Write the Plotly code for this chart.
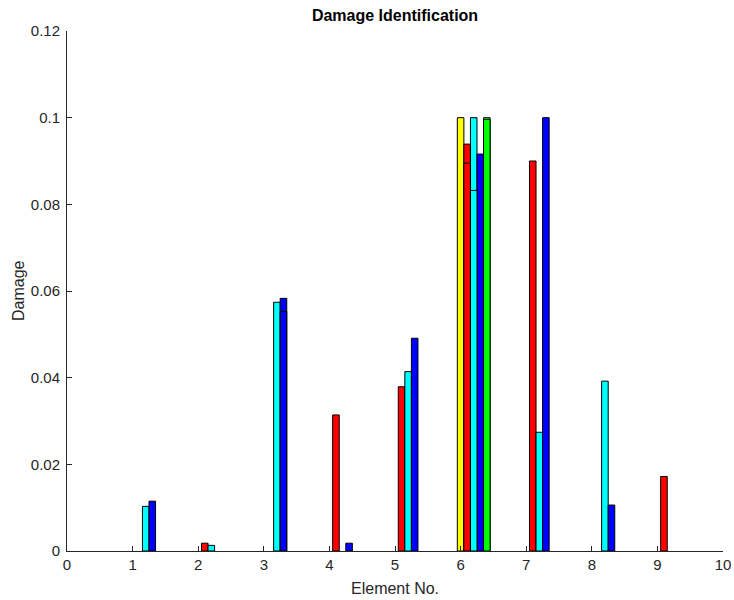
import plotly.graph_objects as go

# Element numbers along the structure
elements = [1, 2, 3, 4, 5, 6, 7, 8, 9]

# Identified damage per element, one list per identification case (first pass)
yellow_vals = [0, 0, 0, 0, 0, 0.1000, 0, 0, 0]
red_vals = [0, 0.0018, 0, 0.0314, 0.0379, 0.0939, 0.0900, 0, 0.0172]
cyan_vals = [0.0103, 0.0013, 0.0574, 0, 0.0414, 0.1000, 0.0274, 0.0392, 0]
blue_vals = [0.0115, 0, 0.0583, 0.0018, 0.0491, 0.0916, 0.1000, 0.0106, 0]
green_vals = [0, 0, 0, 0, 0, 0.1000, 0, 0, 0]

# Second pass, drawn over the first one
red_vals_2 = [0, 0, 0, 0, 0, 0.0895, 0, 0, 0]
cyan_vals_2 = [0, 0, 0, 0, 0, 0.0832, 0, 0, 0]
blue_vals_2 = [0, 0, 0.0553, 0, 0, 0, 0, 0, 0]
green_vals_2 = [0, 0, 0, 0, 0, 0.0996, 0, 0, 0]

bar_width = 0.1
series = [
    (yellow_vals, "#ffff00", 0.0),
    (red_vals, "#ff0000", 0.1),
    (cyan_vals, "#00ffff", 0.2),
    (blue_vals, "#0000ff", 0.3),
    (green_vals, "#00ff00", 0.4),
    (red_vals_2, "#ff0000", 0.1),
    (cyan_vals_2, "#00ffff", 0.2),
    (blue_vals_2, "#0000ff", 0.3),
    (green_vals_2, "#00ff00", 0.4),
]

fig = go.Figure()
for vals, color, shift in series:
    xs = [e + shift for e, v in zip(elements, vals) if v > 0]
    ys = [v for v in vals if v > 0]
    fig.add_trace(go.Bar(
        x=xs, y=ys, width=bar_width,
        marker=dict(color=color, line=dict(color="#000000", width=1)),
        showlegend=False,
    ))

axis_color = "#262626"
font_family = "Liberation Sans, Arial, sans-serif"
plot_w = 734 - 67 - 11
plot_h = 600 - 31 - 49

fig.update_layout(
    width=734, height=600,
    barmode="overlay",
    plot_bgcolor="white", paper_bgcolor="white",
    margin=dict(l=67, r=11, t=31, b=49, autoexpand=False),
    font=dict(family=font_family, size=15, color=axis_color),
    title=dict(
        text="<b>Damage Identification</b>",
        x=0.5, xanchor="center", xref="paper",
        y=0.975, yanchor="middle", yref="container",
        font=dict(family=font_family, size=16, color="#000000"),
    ),
    xaxis=dict(
        range=[0, 10], tickmode="linear", tick0=0, dtick=1,
        showline=True, linecolor=axis_color, linewidth=1,
        ticks="inside", ticklen=5, tickcolor=axis_color,
        showgrid=False, zeroline=False, automargin=False,
        tickfont=dict(size=15),
    ),
    yaxis=dict(
        range=[0, 0.12], tickmode="linear", tick0=0, dtick=0.02,
        showline=True, linecolor=axis_color, linewidth=1,
        ticks="inside", ticklen=5, tickcolor=axis_color,
        showgrid=False, zeroline=False, automargin=False,
        tickfont=dict(size=15), ticklabelstandoff=3,
    ),
    annotations=[
        dict(text="Element No.", xref="paper", yref="paper",
             x=0.5, y=-(588 - 551) / plot_h, xanchor="center", yanchor="middle",
             showarrow=False, font=dict(size=16, color=axis_color)),
        dict(text="Damage", xref="paper", yref="paper",
             x=-(67 - 18) / plot_w, y=0.5, xanchor="center", yanchor="middle",
             textangle=-90, showarrow=False, font=dict(size=16, color=axis_color)),
    ],
)

fig.write_html("out.html")
